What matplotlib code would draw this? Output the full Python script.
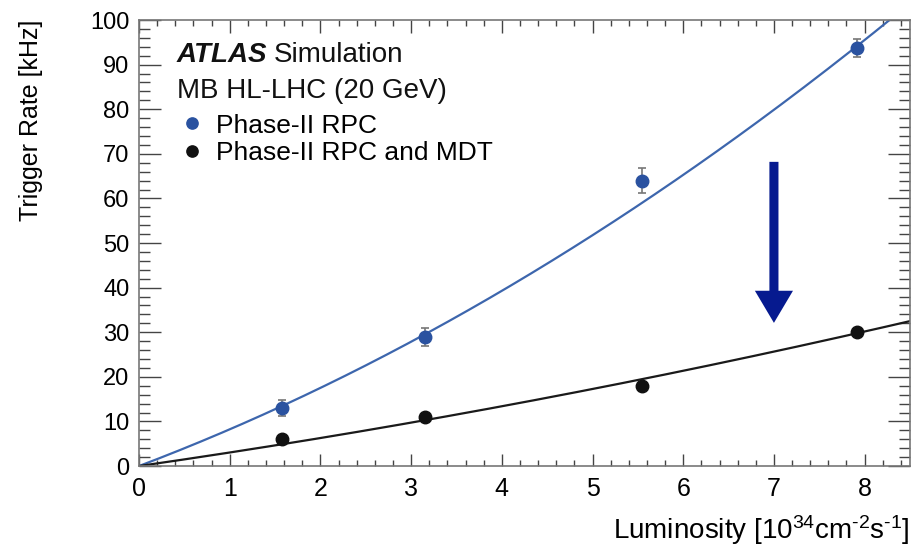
import numpy as np
import matplotlib.pyplot as plt
from matplotlib.ticker import MultipleLocator

plt.rcParams['font.family'] = ['Liberation Sans', 'DejaVu Sans']
plt.rcParams['mathtext.fontset'] = 'custom'
plt.rcParams['mathtext.rm'] = 'Liberation Sans'
plt.rcParams['mathtext.it'] = 'Liberation Sans:italic'
plt.rcParams['mathtext.bf'] = 'Liberation Sans:bold'

# Points
lumi = [1.58, 3.15, 5.55, 7.92]
rate_rpc = [13.0, 29.0, 64.0, 93.8]
err_rpc = [1.8, 2.0, 2.8, 2.0]
rate_rpc_mdt = [6.0, 11.0, 18.0, 30.0]
err_rpc_mdt = [0.4, 0.5, 0.6, 0.6]

# Coefficients des ajustements y = a*L + b*L^2
fit_rpc = (7.7, 0.53)
fit_rpc_mdt = (2.93, 0.105)

# Fleche
arrow_x = 7.0
arrow_top = 68.2
arrow_tip = 32.1

blue = '#2a52a0'
blue_line = '#3d66ad'
navy = '#061a8f'

fig = plt.figure(figsize=(9.12, 5.47), dpi=100)
ax = fig.add_axes([0.1524, 0.148, 0.8454, 0.8154])

L = np.linspace(0, 8.5, 300)
ax.plot(L, fit_rpc[0]*L + fit_rpc[1]*L**2, color=blue_line, lw=1.6)
ax.plot(L, fit_rpc_mdt[0]*L + fit_rpc_mdt[1]*L**2, color='#1a1a1a', lw=1.6)

ax.errorbar(lumi, rate_rpc, yerr=err_rpc, fmt='none', ecolor='#777777',
            elinewidth=1.2, capsize=3, capthick=1.2)
ax.errorbar(lumi, rate_rpc_mdt, yerr=err_rpc_mdt, fmt='none', ecolor='#777777',
            elinewidth=1.2, capsize=3, capthick=1.2)
ax.plot(lumi, rate_rpc, 'o', color=blue, ms=9, ls='none', label='Phase-II RPC')
ax.plot(lumi, rate_rpc_mdt, 'o', color='#111111', ms=9, ls='none',
        label='Phase-II RPC and MDT')

ax.arrow(arrow_x, arrow_top, 0, arrow_tip - arrow_top, width=0.1,
         head_width=0.42, head_length=7.2, length_includes_head=True,
         color=navy, lw=0)

ax.set_xlim(0, 8.5)
ax.set_ylim(0, 100)
ax.xaxis.set_major_locator(MultipleLocator(1))
ax.xaxis.set_minor_locator(MultipleLocator(0.2))
ax.yaxis.set_major_locator(MultipleLocator(10))
ax.yaxis.set_minor_locator(MultipleLocator(2))
ax.tick_params(which='both', direction='in', top=True, right=True,
               color='#444444', width=1.0)
ax.tick_params(axis='x', which='major', length=9, labelsize=18, pad=8)
ax.tick_params(axis='x', which='minor', length=4.5)
ax.tick_params(axis='y', which='major', length=16, labelsize=17, pad=7)
ax.tick_params(axis='y', which='minor', length=8)
for s in ax.spines.values():
    s.set_color('#777777')
    s.set_linewidth(1.2)

ax.set_xlabel('Luminosity [10$^{34}$cm$^{\u2010 2}$s$^{\u2010 1}$]', fontsize=20,
              loc='right', labelpad=9)
ax.set_ylabel('Trigger Rate [kHz]', fontsize=18, loc='top', labelpad=34)

t1 = ax.text(0.049, 0.905, 'ATLAS', transform=ax.transAxes, fontsize=20,
             fontweight='bold', fontstyle='italic', va='baseline', color='#111111')
ax.annotate('Simulation', xy=(1, 0), xycoords=t1, xytext=(5, 0),
            textcoords='offset points', fontsize=20, va='bottom', color='#111111')
ax.text(0.049, 0.8245, 'MB HL-LHC (20 GeV)', transform=ax.transAxes,
        fontsize=20, va='baseline', color='#111111')

ax.legend(loc='upper left', bbox_to_anchor=(0.055, 0.79), frameon=False,
          fontsize=19, handlelength=0.8, handletextpad=0.5,
          labelspacing=0.12, borderaxespad=0, borderpad=0, markerscale=0.9)

fig.savefig('out.png', dpi=100)
